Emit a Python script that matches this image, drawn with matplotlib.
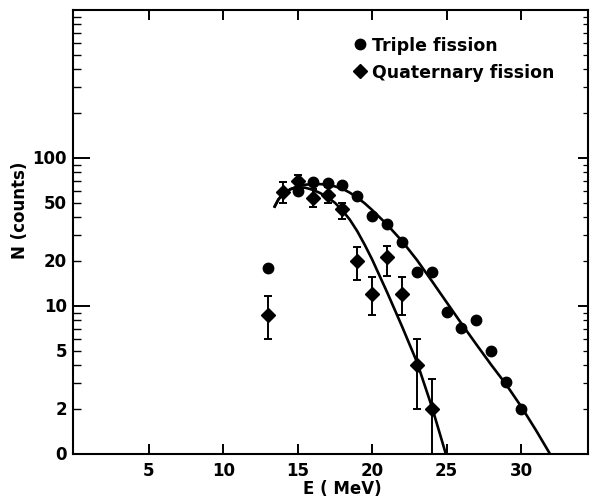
import matplotlib
matplotlib.use("Agg")
import matplotlib.pyplot as plt
from matplotlib.lines import Line2D
from matplotlib.ticker import FixedLocator, NullFormatter

# ---- data ----
triple_E = [13, 15, 16, 17, 18, 19, 20, 21, 22, 23, 24, 25, 26, 27, 28, 29, 30]
triple_N = [18, 60, 69, 68, 66, 55, 40.5, 36, 27, 17, 17, 9.1, 7.1, 8.0, 5.0, 3.06, 2.0]

quat_E = [13, 14, 15, 16, 17, 18, 19, 20, 21, 22, 23, 24]
quat_N = [8.7, 59, 70, 54, 56, 45, 20, 12, 21.5, 12, 4.0, 2.0]
quat_lo = [6.0, 50, 63, 46.5, 50, 38.5, 15, 8.7, 16, 8.7, 2.0, 0.9]
quat_hi = [11.7, 69, 77, 62, 64, 50, 25, 15.7, 25.5, 15.7, 6.0, 3.2]

# fitted curves
triple_fit_E = [13.45, 13.7, 14, 14.5, 15, 15.5, 16, 16.5, 17, 17.5, 18, 18.5, 19, 19.5, 20,
                21, 22, 23, 24, 25, 26, 27, 28, 29, 30, 31, 31.95]
triple_fit_N = [47, 52.5, 57, 61.5, 64.5, 66, 66.6, 66.6, 66, 64.3, 62, 58.3, 54, 49.4, 44.5,
                35.5, 27.5, 20.5, 14.8, 10.6, 7.6, 5.5, 4.0, 2.95, 2.1, 1.45, 1.0]

quat_fit_E = [13.45, 13.7, 14, 14.5, 15, 15.5, 16, 16.5, 17, 17.5, 18, 18.5, 19, 19.5, 20,
              21, 22, 23, 24, 24.95]
quat_fit_N = [47, 52.5, 57, 61.5, 63.5, 63, 61, 58, 54.3, 49.8, 44.2, 38.3, 32, 25.9, 20.6,
              12.4, 7.3, 4.2, 2.1, 1.0]

x_ticks = [5, 10, 15, 20, 25, 30]
x_ticklabels = ["5", "10", "15", "20", "25", "30"]
y_ticks = [1, 2, 5, 10, 20, 50, 100]
y_ticklabels = ["0", "2", "5", "10", "20", "50", "100"]

plt.rcParams['font.family'] = ['DejaVu Sans']
plt.rcParams['font.weight'] = 'bold'

fig = plt.figure(figsize=(5.92, 5.02), dpi=100)
ax = fig.add_axes([73/592, 47/502, (588-73)/592, (455-11)/502])

ax.set_yscale('log')
ax.set_xlim(-0.1, 34.5)
ax.set_ylim(1, 1000)

# curves
ax.plot(triple_fit_E, triple_fit_N, color='black', lw=1.9, zorder=2)
ax.plot(quat_fit_E, quat_fit_N, color='black', lw=1.9, zorder=2)

# data
ax.plot(triple_E, triple_N, 'o', color='black', ms=7.5, zorder=3)
yerr = [[n - l for n, l in zip(quat_N, quat_lo)], [h - n for n, h in zip(quat_N, quat_hi)]]
ax.errorbar(quat_E, quat_N, yerr=yerr, fmt='D', color='black', ms=7, elinewidth=1.4,
            capsize=3, capthick=1.4, zorder=3)

# spines
for s in ax.spines.values():
    s.set_linewidth(1.5)

# x ticks
ax.set_xticks(x_ticks)
ax.set_xticklabels(x_ticklabels)
ax.tick_params(axis='x', which='major', direction='in', length=7, width=1.4,
               top=True, labelsize=12, pad=5)
ax.tick_params(axis='x', which='minor', bottom=False, top=False)

# y ticks (left)
minor = [v * d for d in (1, 10, 100) for v in range(2, 10)]
ax.yaxis.set_major_locator(FixedLocator([10, 100]))
ax.yaxis.set_major_formatter(NullFormatter())
ax.yaxis.set_minor_locator(FixedLocator(minor))
ax.yaxis.set_minor_formatter(NullFormatter())
ax.tick_params(axis='y', which='major', direction='in', length=12, width=1.4, right=False)
ax.tick_params(axis='y', which='minor', direction='in', length=6, width=1.0, right=False)

# y ticks (right, shorter)
axr = ax.twinx()
axr.set_yscale('log')
axr.set_ylim(1, 1000)
axr.yaxis.set_major_locator(FixedLocator([10, 100]))
axr.yaxis.set_major_formatter(NullFormatter())
axr.yaxis.set_minor_locator(FixedLocator(minor))
axr.yaxis.set_minor_formatter(NullFormatter())
axr.tick_params(axis='y', which='major', direction='in', length=7, width=1.4)
axr.tick_params(axis='y', which='minor', direction='in', length=3.5, width=0.9)
for s in axr.spines.values():
    s.set_visible(False)

# y tick labels as text
for v, lab in zip(y_ticks, y_ticklabels):
    ax.text(-0.012, v, lab, transform=ax.get_yaxis_transform(), ha='right', va='center',
            fontsize=12, fontweight='bold')

ax.set_xlabel("E ( MeV)", fontsize=12, fontweight='bold')
ax.xaxis.set_label_coords(0.522, -0.057)
ax.set_ylabel("N (counts)", fontsize=12, fontweight='bold')
ax.yaxis.set_label_coords(-0.085, 0.55)

handles = [Line2D([], [], ls='none', marker='o', color='black', ms=7.5),
           Line2D([], [], ls='none', marker='D', color='black', ms=7)]
ax.legend(handles, ["Triple fission", "Quaternary fission"], loc='upper left',
          bbox_to_anchor=(0.524, 0.957), frameon=False, handletextpad=0.1,
          handlelength=1.2, borderaxespad=0, labelspacing=0.52,
          prop={'weight': 'bold', 'size': 12.5})

fig.savefig("out.png", dpi=100)
